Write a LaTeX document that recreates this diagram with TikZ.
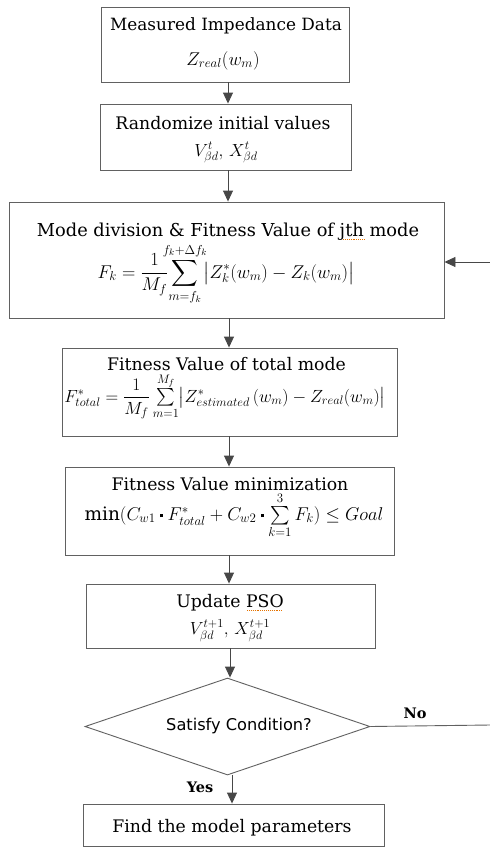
\RequirePackage{fix-cm}
\documentclass[tikz,border=0pt]{standalone}
\usepackage{amsmath,amssymb,mathtools}
\usepackage{fontspec}
\setmainfont{DejaVu Serif}
\newfontfamily\dsans{DejaVu Sans}
\usetikzlibrary{shapes.geometric,arrows.meta}
\newcommand{\sq}{\mathbin{\vcenter{\hbox{\rule{3.6pt}{3.6pt}}}}}
\begin{document}
\begin{tikzpicture}[x=1pt,y=-1pt,
  box/.style={draw=black!62, line width=0.9pt, rectangle, inner sep=0pt},
  dia/.style={draw=black!62, line width=0.9pt, diamond, inner sep=0pt},
  arr/.style={draw=black!72, line width=0.9pt, -{Triangle[length=11pt,width=10pt]}},
  lnk/.style={draw=black!62, line width=0.9pt},
  ttl/.style={anchor=base, inner sep=0pt, font=\fontsize{17.3}{20}\selectfont},
  fml/.style={anchor=base, inner sep=0pt, font=\fontsize{18.5}{22}\selectfont},
  lab/.style={anchor=base, inner sep=0pt, font=\fontsize{14.5}{17}\selectfont\bfseries},
  squig/.style={draw=orange!90!black, line width=0.9pt, densely dotted}
]
\useasboundingbox (0,0) rectangle (490,847);
\fill[white] (0,0) rectangle (490,847);

% boxes
\node[box, minimum width=248pt, minimum height=75pt] (b1) at (225,44.5) {};
\node[box, minimum width=251pt, minimum height=66pt] (b2) at (225.5,137) {};
\node[box, minimum width=435pt, minimum height=116pt] (b3) at (226.5,260) {};
\node[box, minimum width=335pt, minimum height=88pt] (b4) at (229.5,392) {};
\node[box, minimum width=329pt, minimum height=88pt] (b5) at (229.5,511) {};
\node[box, minimum width=289pt, minimum height=64pt] (b6) at (230.5,616) {};
\node[dia, minimum width=285pt, minimum height=97pt, aspect=2.94] (d) at (227.5,726.5) {};
\node[box, minimum width=301pt, minimum height=42pt] (b7) at (233.5,825) {};

% texts
\node[ttl, font=\fontsize{16.9}{20}\selectfont] (t1) at (226,30) {Measured Impedance Data};
\node[fml] (f1) at (223,65) {$Z_{real}(w_m)$};
\node[ttl] (t2) at (223,129) {Randomize initial values};
\node[fml, font=\fontsize{17.5}{22}\selectfont] (f2) at (226,156) {$V^{t}_{\beta d},\, X^{t}_{\beta d}$};
\node[ttl, font=\fontsize{17.8}{20}\selectfont] (t3) at (228,236) {Mode division \& Fitness Value of jth mode};
\node[fml] (f3) at (226,278)
  {$\displaystyle F_k=\frac{1}{M_f}\sum_{\mathclap{m=f_k}}^{\mathclap{f_k+\Delta f_k}}\;\bigl|Z^{*}_{k}(w_m)-Z_k(w_m)\bigr|$};
\node[ttl] (t4) at (226.5,370) {Fitness Value of total mode};
\node[fml, font=\fontsize{17.6}{22}\selectfont] (f4) at (225,402)
  {$F^{*}_{total}=\dfrac{1}{M_f}\sum\limits_{m=1}^{M_f}\bigl|Z^{*}_{estimated}\,(w_m)-Z_{real}(w_m)\bigr|$};
\node[ttl] (t5) at (230,490) {Fitness Value minimization};
\node[fml] (f5) at (234,520)
  {$\min(C_{w1}\sq F^{*}_{total}+C_{w2}\sq\sum\limits_{k=1}^{3}F_k)\le Goal$};
\node[ttl] (t6) at (230,607) {Update PSO};
\node[fml, font=\fontsize{17.5}{22}\selectfont] (f6) at (230,634) {$V^{t+1}_{\beta d},\, X^{t+1}_{\beta d}$};
\node[anchor=base, inner sep=0pt, font=\dsans\fontsize{16.2}{19}\selectfont] (dt) at (239,730) {Satisfy Condition?};
\node[ttl] (t7) at (232,832) {Find the model parameters};

% spell-check marks
\draw[squig] (343,239) -- (365,239);
\draw[squig] (247,610) -- (283,610);

% connectors
\coordinate (fb) at (490,262);
\coordinate (no) at (490,725);
\draw[arr] (b1.south -| 228,0) -- (b2.north -| 228,0);
\draw[arr] (b2.south -| 228,0) -- (b3.north -| 228,0);
\draw[arr] (b3.south -| 229,0) -- (b4.north -| 229,0);
\draw[arr] (b4.south -| 229,0) -- (b5.north -| 229,0);
\draw[arr] (b5.south -| 229,0) -- (b6.north -| 229,0);
\draw[arr] (b6.south -| 230,0) -- (d.north -| 230,0);
\draw[arr] (d.south -| 232,0) -- (b7.north -| 232,0);
\draw[lnk] (d.east) -- (no);
\draw[arr] (fb) -- (fb -| b3.east);

\node[lab] (yes) at (200,792) {Yes};
\node[lab] (nol) at (415,718) {No};
\end{tikzpicture}
\end{document}
